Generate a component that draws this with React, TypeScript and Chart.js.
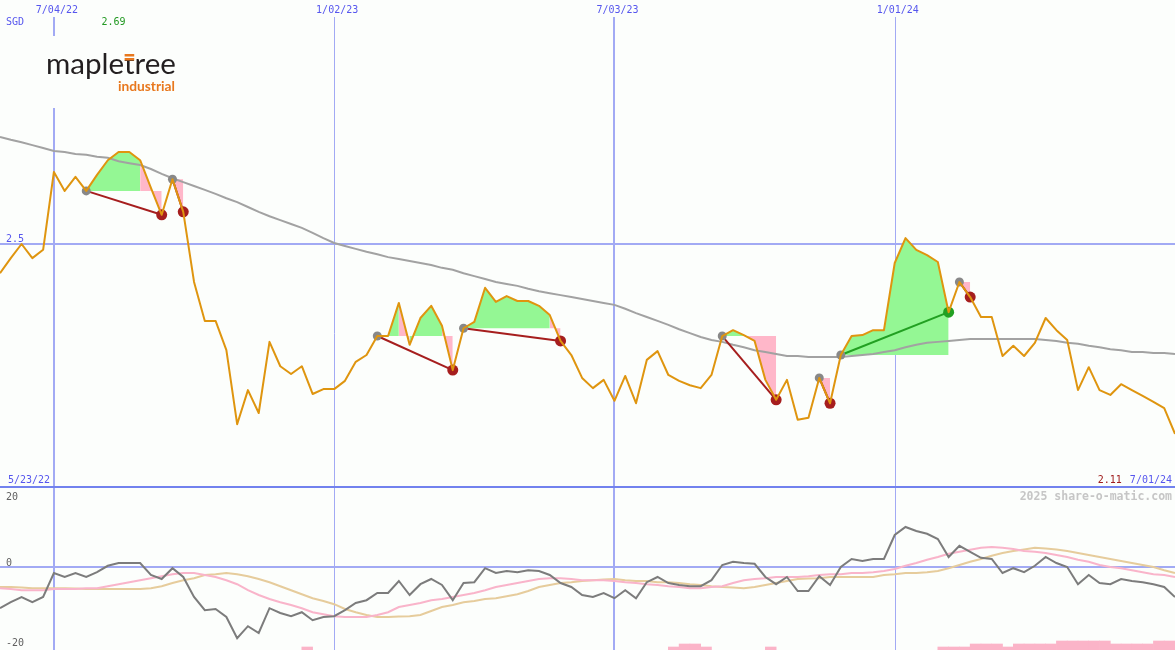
import React, { useEffect, useRef } from 'react';
import { Chart, registerables } from 'chart.js';

Chart.register(...registerables);

// ---------- data ----------
const currency = 'SGD';
const startLabel = '5/23/22';
const endLabel = '7/01/24';
const tickWeeks = [5, 31, 57, 83];
const tickLabels = ['7/04/22', '1/02/23', '7/03/23', '1/01/24'];
const priceGrid = [2.5];
const oscTickValues = [20, 0, -20];

const price = [
  2.439, 2.470, 2.499, 2.470, 2.487, 2.647, 2.608, 2.637, 2.608, 2.641,
  2.671, 2.688, 2.688, 2.671, 2.614, 2.559, 2.632, 2.565, 2.421, 2.341,
  2.341, 2.281, 2.129, 2.199, 2.152, 2.298, 2.248, 2.232, 2.248, 2.191,
  2.201, 2.201, 2.218, 2.257, 2.271, 2.310, 2.310, 2.378, 2.292, 2.347,
  2.372, 2.331, 2.240, 2.326, 2.339, 2.409, 2.380, 2.392, 2.382, 2.382,
  2.372, 2.353, 2.300, 2.271, 2.224, 2.203, 2.220, 2.177, 2.228, 2.172,
  2.261, 2.279, 2.230, 2.218, 2.209, 2.203, 2.230, 2.310, 2.322, 2.312,
  2.300, 2.220, 2.179, 2.220, 2.138, 2.142, 2.224, 2.172, 2.271, 2.310,
  2.312, 2.322, 2.322, 2.460, 2.511, 2.487, 2.476, 2.462, 2.359, 2.421,
  2.390, 2.349, 2.349, 2.269, 2.290, 2.269, 2.296, 2.347, 2.322, 2.302,
  2.199, 2.246, 2.199, 2.189, 2.211, 2.199, 2.187, 2.175, 2.162, 2.109,
];

const movingAvg = [
  2.719, 2.713, 2.708, 2.702, 2.696, 2.690, 2.688, 2.684, 2.682, 2.678,
  2.676, 2.669, 2.665, 2.661, 2.653, 2.643, 2.634, 2.626, 2.618, 2.610,
  2.602, 2.593, 2.585, 2.575, 2.565, 2.556, 2.548, 2.540, 2.532, 2.522,
  2.511, 2.501, 2.495, 2.489, 2.483, 2.478, 2.472, 2.468, 2.464, 2.460,
  2.456, 2.450, 2.446, 2.439, 2.433, 2.427, 2.421, 2.417, 2.413, 2.407,
  2.402, 2.398, 2.394, 2.390, 2.386, 2.382, 2.378, 2.374, 2.366, 2.357,
  2.349, 2.341, 2.333, 2.324, 2.316, 2.308, 2.302, 2.298, 2.292, 2.287,
  2.281, 2.277, 2.273, 2.269, 2.269, 2.267, 2.267, 2.267, 2.267, 2.269,
  2.271, 2.273, 2.277, 2.281, 2.287, 2.292, 2.296, 2.298, 2.300, 2.302,
  2.304, 2.304, 2.304, 2.304, 2.304, 2.304, 2.304, 2.302, 2.300, 2.296,
  2.294, 2.290, 2.287, 2.283, 2.281, 2.277, 2.277, 2.275, 2.275, 2.273,
];

const momentum = [
  -10.3, -8.8, -7.5, -8.8, -7.5, -1.5, -2.5, -1.5, -2.5, -1.3,
  0.3, 1.0, 1.0, 1.0, -2.0, -3.0, -0.3, -2.5, -7.5, -10.8,
  -10.5, -12.5, -17.8, -14.8, -16.5, -10.3, -11.5, -12.3, -11.3, -13.3,
  -12.5, -12.3, -10.8, -9.0, -8.3, -6.5, -6.5, -3.5, -7.0, -4.3,
  -3.0, -4.5, -8.3, -4.0, -3.8, -0.3, -1.5, -1.0, -1.3, -0.8,
  -1.0, -2.0, -4.0, -5.0, -7.0, -7.5, -6.5, -7.8, -5.8, -7.8,
  -3.8, -2.5, -4.0, -4.5, -4.8, -4.8, -3.3, 0.5, 1.3, 1.0,
  0.8, -2.5, -4.3, -2.5, -6.0, -6.0, -2.3, -4.5, 0.0, 2.0,
  1.5, 2.0, 2.0, 8.0, 10.0, 9.0, 8.3, 7.0, 2.5, 5.3,
  3.8, 2.3, 2.0, -1.5, -0.3, -1.3, 0.3, 2.5, 1.0, 0.0,
  -4.3, -2.0, -4.0, -4.3, -3.0, -3.5, -3.8, -4.3, -5.0, -7.5,
];

const signalPink = [
  -5.3, -5.5, -5.8, -5.8, -5.8, -5.5, -5.5, -5.5, -5.3, -5.3,
  -4.8, -4.3, -3.8, -3.3, -2.8, -2.3, -1.8, -1.5, -1.5, -2.0,
  -2.5, -3.3, -4.3, -5.8, -7.0, -8.0, -8.8, -9.5, -10.3, -11.3,
  -11.8, -12.3, -12.5, -12.5, -12.5, -12.0, -11.3, -10.0, -9.5, -9.0,
  -8.3, -8.0, -7.5, -7.0, -6.5, -5.8, -5.0, -4.5, -4.0, -3.5,
  -3.0, -2.8, -2.8, -3.0, -3.3, -3.3, -3.3, -3.5, -3.8, -4.0,
  -4.3, -4.5, -4.8, -5.0, -5.3, -5.3, -5.0, -4.8, -4.0, -3.3,
  -3.0, -2.8, -2.5, -2.5, -2.5, -2.3, -2.0, -1.8, -1.8, -1.5,
  -1.5, -1.3, -1.0, -0.5, 0.3, 1.0, 1.8, 2.5, 3.3, 3.8,
  4.3, 4.8, 5.0, 4.8, 4.5, 4.0, 3.8, 3.5, 3.0, 2.5,
  1.8, 1.3, 0.5, 0.0, -0.3, -0.8, -1.3, -1.8, -2.0, -2.5,
];

const signalTan = [
  -5.0, -5.0, -5.1, -5.3, -5.3, -5.3, -5.3, -5.4, -5.5, -5.5,
  -5.5, -5.5, -5.5, -5.5, -5.3, -4.8, -4.0, -3.3, -2.8, -2.0,
  -1.8, -1.5, -1.8, -2.3, -3.0, -3.8, -4.8, -5.8, -6.8, -7.8,
  -8.5, -9.3, -10.5, -11.3, -12.0, -12.5, -12.5, -12.4, -12.3, -12.0,
  -11.0, -10.0, -9.5, -8.8, -8.5, -8.0, -7.8, -7.3, -6.8, -6.0,
  -5.0, -4.5, -4.0, -3.8, -3.5, -3.3, -3.1, -3.0, -3.3, -3.5,
  -3.5, -3.8, -3.8, -4.0, -4.3, -4.5, -4.8, -5.0, -5.1, -5.3,
  -5.0, -4.5, -4.0, -3.5, -3.0, -2.9, -2.8, -2.5, -2.5, -2.5,
  -2.5, -2.5, -2.0, -1.8, -1.5, -1.5, -1.3, -1.0, -0.3, 0.5,
  1.3, 2.0, 2.8, 3.5, 4.0, 4.4, 4.8, 4.6, 4.4, 4.0,
  3.5, 3.0, 2.5, 2.0, 1.5, 1.0, 0.5, 0.0, -0.8, -1.5,
];

const histWeeks = [28, 62, 63, 64, 65, 71, 87, 88, 89, 90, 91, 92, 93, 94, 95, 96, 97, 98, 99, 100, 101, 102, 103, 104, 105, 106, 107, 108];
const histValues = [1, 1, 2, 2, 1, 1, 1, 1, 1, 2, 2, 2, 1, 2, 2, 2, 2, 3, 3, 3, 3, 3, 2, 2, 2, 2, 3, 3];

const tradeEntries = [8, 16, 35, 43, 67, 76, 78, 89];
const tradeExits = [15, 17, 42, 52, 72, 77, 88, 90];
const weakWeeks = [13, 14, 16, 37, 41, 51, 69, 70, 71, 76, 89];

// ---------- layout / style ----------
const W = 1175;
const H = 650;
const PRICE_TOP = 3.0;
const PRICE_SEP = 2.0;
const SEP_PX = 487;
const OSC_ZERO_PX = 567;
const OSC_PX_PER_UNIT = 4;
const BAR_PX_PER_UNIT = 3;

const BG = '#fcfefc';
const GRID = '#a2aaf4';
const SEP_COLOR = '#7282ee';
const BLUE_TEXT = '#5656ee';
const GREEN_TEXT = '#229922';
const RED_TEXT = '#a01c1c';
const ORANGE = '#df950f';
const MA_GRAY = '#a2a2a2';
const FILL_GREEN = '#94f794';
const FILL_PINK = '#ffb7c9';
const DOT_GRAY = '#888888';
const LOSS_RED = '#a61e1e';
const WIN_GREEN = '#22a022';
const MONO = '"DejaVu Sans Mono", monospace';

const pts = (arr: number[], offset = 0) => arr.map((v, i) => ({ x: i + offset, y: v }));

function buildDatasets() {
  const ds: any[] = [];
  ds.push({
    label: 'price', data: pts(price), yAxisID: 'y', borderColor: ORANGE, borderWidth: 2,
    pointRadius: 0, fill: false, order: 0, borderJoinStyle: 'round',
  });
  ds.push({
    label: 'ma', data: pts(movingAvg), yAxisID: 'y', borderColor: MA_GRAY, borderWidth: 2,
    pointRadius: 0, fill: false, order: 3,
  });
  tradeEntries.forEach((e, t) => {
    const x = tradeExits[t];
    const lvl = price[e];
    const levelIdx = ds.length;
    ds.push({
      label: 'level' + t, data: [{ x: e, y: lvl }, { x, y: lvl }], yAxisID: 'y',
      borderColor: 'transparent', borderWidth: 0, pointRadius: 0, fill: false, order: 5,
    });
    ds.push({
      label: 'fill' + t, data: pts(price.slice(e, x + 1), e), yAxisID: 'y',
      borderColor: 'transparent', borderWidth: 0, pointRadius: 0, order: 5,
      backgroundColor: FILL_GREEN, fill: levelIdx,
      segment: {
        backgroundColor: (c: any) => (weakWeeks.includes(e + (c.p0DataIndex ?? 0)) ? FILL_PINK : FILL_GREEN),
      },
    });
    const profit = price[x] > lvl;
    const col = profit ? WIN_GREEN : LOSS_RED;
    ds.push({
      label: 'trade' + t, data: [{ x: e, y: lvl }, { x, y: price[x] }], yAxisID: 'y',
      borderColor: col, borderWidth: 2, fill: false, order: 2,
      pointRadius: [4.5, 5.5], pointBackgroundColor: [DOT_GRAY, col],
      pointBorderWidth: 0, pointBorderColor: 'transparent',
    });
  });
  ds.push({
    label: 'momentum', data: pts(momentum), yAxisID: 'yOsc', borderColor: '#7c7c7c', borderWidth: 2,
    pointRadius: 0, fill: false, order: 6,
  });
  ds.push({
    label: 'signalPink', data: pts(signalPink), yAxisID: 'yOsc', borderColor: '#f9b4ca', borderWidth: 2,
    pointRadius: 0, fill: false, order: 7,
  });
  ds.push({
    label: 'signalTan', data: pts(signalTan), yAxisID: 'yOsc', borderColor: '#e6cc9c', borderWidth: 2,
    pointRadius: 0, fill: false, order: 8,
  });
  ds.push({
    type: 'bar', label: 'hist', data: histWeeks.map((w, i) => ({ x: w + 0.5, y: histValues[i] })),
    yAxisID: 'yBar', backgroundColor: '#fbb4c8', borderWidth: 0, barPercentage: 1, categoryPercentage: 1, order: 10,
  });
  return ds;
}

const bgPlugin = {
  id: 'bg',
  beforeDraw(chart: any) {
    const { ctx, width, height } = chart;
    ctx.save();
    ctx.fillStyle = BG;
    ctx.fillRect(0, 0, width, height);
    ctx.restore();
  },
};

const gridPlugin = {
  id: 'grid',
  beforeDatasetsDraw(chart: any) {
    const { ctx, chartArea: a, scales } = chart;
    const x = scales.x, y = scales.y, yo = scales.yOsc;
    ctx.save();
    ctx.strokeStyle = GRID;
    tickWeeks.forEach((w, i) => {
      const px = x.getPixelForValue(w);
      const thin = tickLabels[i].startsWith('1/');
      ctx.lineWidth = thin ? 1 : 2;
      const xx = thin ? Math.round(px) + 0.5 : Math.round(px);
      ctx.beginPath();
      ctx.moveTo(xx, 17);
      ctx.lineTo(xx, a.bottom);
      ctx.stroke();
    });
    const hline = (py: number, color: string) => {
      const yy = Math.round(py);
      ctx.strokeStyle = color;
      ctx.lineWidth = 2;
      ctx.beginPath();
      ctx.moveTo(a.left, yy);
      ctx.lineTo(a.right, yy);
      ctx.stroke();
    };
    priceGrid.forEach((v) => hline(y.getPixelForValue(v), GRID));
    hline(yo.getPixelForValue(0), GRID);
    hline(y.getPixelForValue(PRICE_SEP), SEP_COLOR);

    // logo box
    ctx.fillStyle = BG;
    ctx.fillRect(30, 36, 170, 72);
    ctx.textBaseline = 'alphabetic';
    ctx.textAlign = 'left';
    const word = 'mapletree';
    ctx.font = '30px Lato, "Open Sans", sans-serif';
    const w0 = ctx.measureText(word).width;
    const size = 30 * 130 / w0;
    ctx.font = `${size}px Lato, "Open Sans", sans-serif`;
    ctx.fillStyle = '#231f20';
    ctx.fillText(word, 46, 74);
    const tx = 46 + ctx.measureText('maple').width;
    const tw = ctx.measureText('t').width;
    ctx.fillStyle = BG;
    ctx.fillRect(tx - 1, 50, tw + 2, 10);
    ctx.fillStyle = '#e8781e';
    ctx.fillRect(tx + 0.5, 54, tw - 1, 2.5);
    ctx.fillRect(tx + 0.5, 58, tw - 1, 2.5);
    const sub = 'industrial';
    ctx.font = 'bold 13px Lato, "Open Sans", sans-serif';
    const s0 = ctx.measureText(sub).width;
    ctx.font = `bold ${13 * 57 / s0}px Lato, "Open Sans", sans-serif`;
    ctx.textAlign = 'right';
    ctx.fillText(sub, 175, 91);
    ctx.restore();
  },
};

const labelPlugin = {
  id: 'labels',
  afterDatasetsDraw(chart: any) {
    const { ctx, scales } = chart;
    const x = scales.x, y = scales.y, yo = scales.yOsc;
    ctx.save();
    ctx.font = `10px ${MONO}`;
    ctx.textBaseline = 'alphabetic';
    ctx.fillStyle = BLUE_TEXT;
    ctx.textAlign = 'center';
    tickWeeks.forEach((w, i) => ctx.fillText(tickLabels[i], x.getPixelForValue(w) + 3, 13));
    ctx.textAlign = 'left';
    ctx.fillText(currency, 6, 25);

    const maxV = Math.max(...price);
    const maxK = price.indexOf(maxV);
    ctx.fillStyle = GREEN_TEXT;
    ctx.textAlign = 'center';
    ctx.fillText(maxV.toFixed(2), x.getPixelForValue(maxK) - 5, 25);

    ctx.fillStyle = BLUE_TEXT;
    ctx.textAlign = 'left';
    priceGrid.forEach((v) => ctx.fillText(String(v), 6, Math.round(y.getPixelForValue(v)) - 2));
    const sepPx = Math.round(y.getPixelForValue(PRICE_SEP));
    ctx.fillText(startLabel, 8, sepPx - 4);
    ctx.textAlign = 'right';
    ctx.fillText(endLabel, 1172, sepPx - 4);
    const endW = ctx.measureText(endLabel).width;
    ctx.fillStyle = RED_TEXT;
    ctx.fillText(price[price.length - 1].toFixed(2), 1172 - endW - 8, sepPx - 4);

    ctx.font = `bold 11.5px ${MONO}`;
    ctx.fillStyle = '#c6c6c6';
    ctx.fillText('2025 share-o-matic.com', 1172, sepPx + 13);

    ctx.font = `10px ${MONO}`;
    ctx.fillStyle = '#606060';
    ctx.textAlign = 'left';
    oscTickValues.forEach((v) => {
      const py = Math.max(Math.round(yo.getPixelForValue(v)) - 1, sepPx + 13);
      ctx.fillText(String(v), 6, py);
    });
    ctx.restore();
  },
};

export default function App() {
  const ref = useRef<HTMLCanvasElement | null>(null);
  useEffect(() => {
    document.body.style.margin = '0';
    const canvas = ref.current;
    if (!canvas) return;
    const priceMin = PRICE_TOP - (PRICE_TOP - PRICE_SEP) * H / SEP_PX;
    const chart = new Chart(canvas, {
      type: 'line',
      data: { datasets: buildDatasets() },
      options: {
        animation: false,
        responsive: false,
        devicePixelRatio: 1,
        events: [],
        layout: { padding: 0, autoPadding: false },
        plugins: {
          legend: { display: false },
          tooltip: { enabled: false },
          filler: { propagate: false },
        },
        scales: {
          x: { type: 'linear', min: 0, max: price.length - 1, display: false, offset: false },
          y: { type: 'linear', min: priceMin, max: PRICE_TOP, display: false },
          yOsc: {
            type: 'linear', display: false,
            min: -(H - OSC_ZERO_PX) / OSC_PX_PER_UNIT, max: OSC_ZERO_PX / OSC_PX_PER_UNIT,
          },
          yBar: { type: 'linear', display: false, min: 0, max: H / BAR_PX_PER_UNIT },
        },
        elements: { line: { tension: 0 }, point: { radius: 0 } },
      } as any,
      plugins: [bgPlugin, gridPlugin, labelPlugin],
    } as any);
    return () => chart.destroy();
  }, []);
  return (
    <div style={{ position: 'fixed', left: 0, top: 0, width: W, height: H, background: BG }}>
      <canvas ref={ref} width={W} height={H} style={{ display: 'block' }} />
    </div>
  );
}
